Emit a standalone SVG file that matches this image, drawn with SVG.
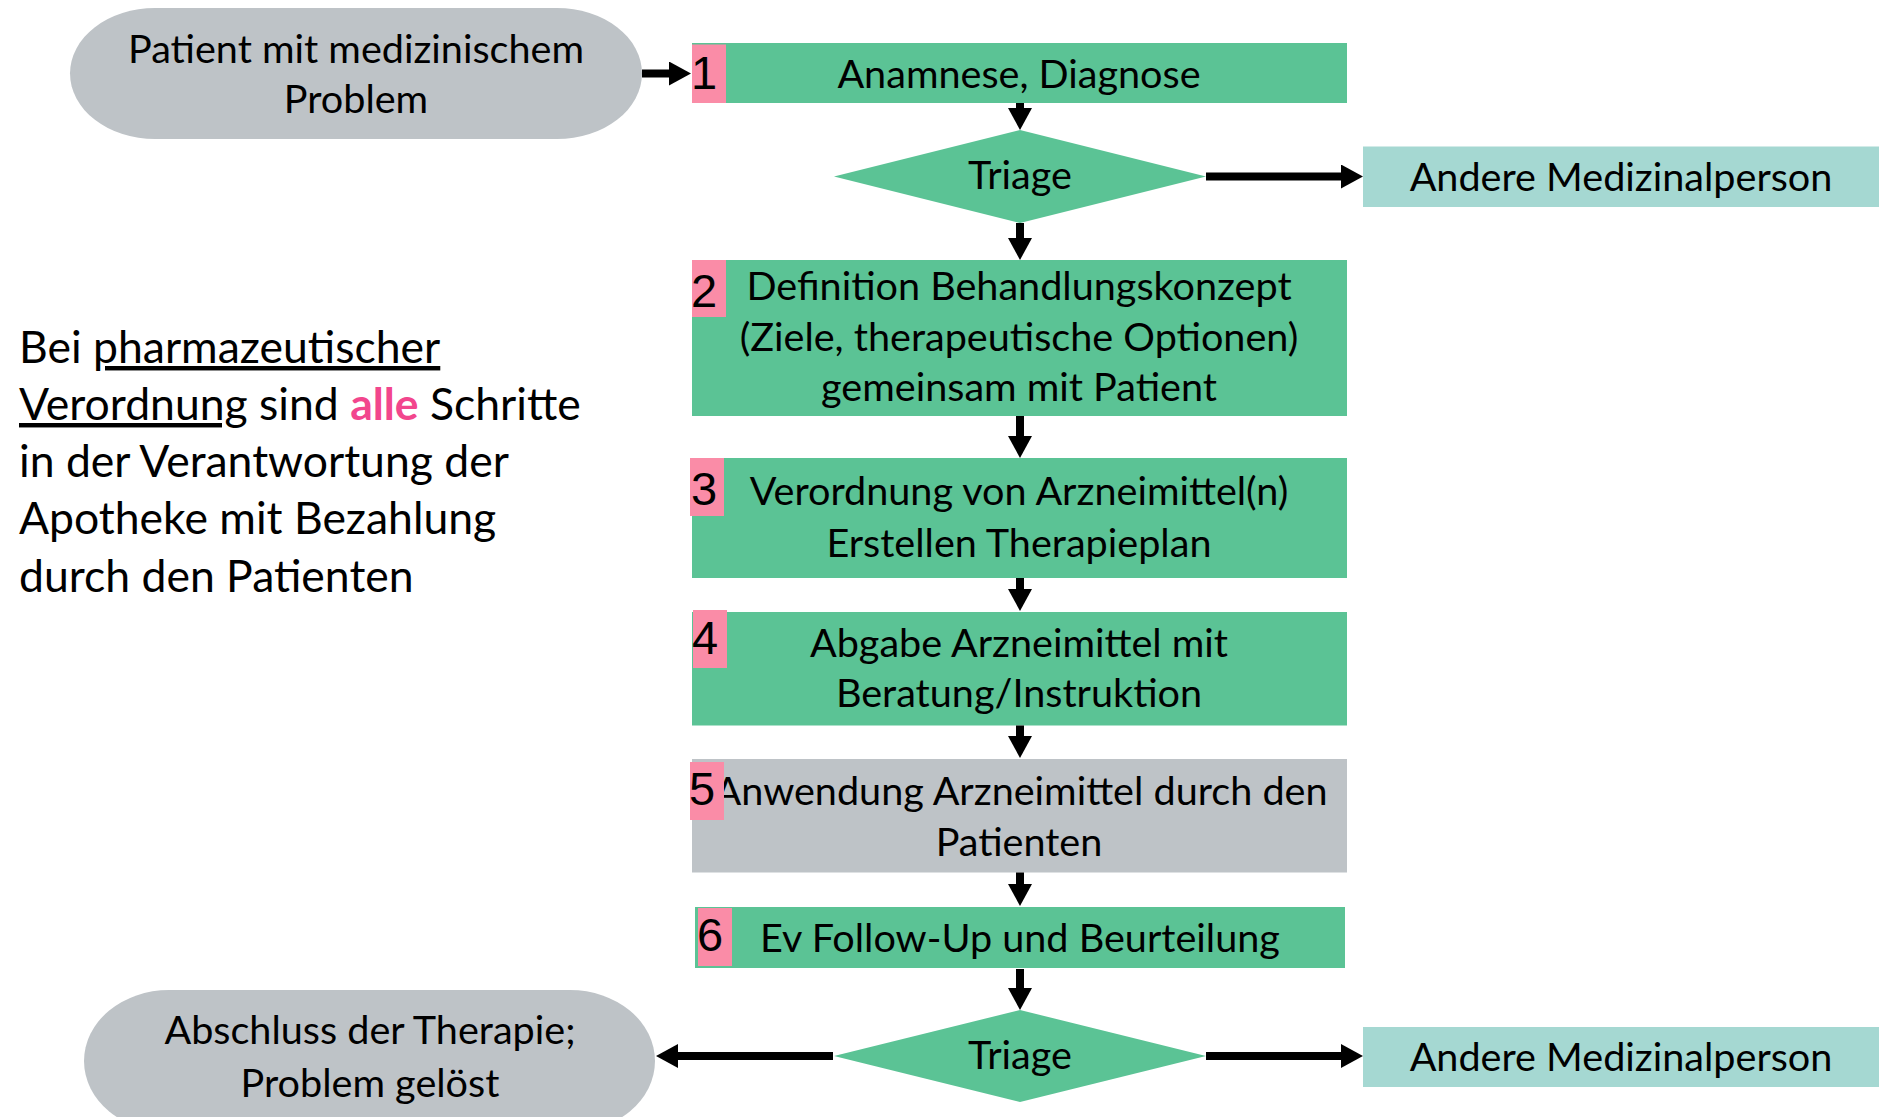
<svg xmlns="http://www.w3.org/2000/svg" width="1879" height="1117" viewBox="0 0 1879 1117">
<style>
.t{font-family:Lato,"Open Sans","Liberation Sans",sans-serif;font-size:39.6px;fill:#000;text-anchor:middle}
.l{font-family:Lato,"Open Sans","Liberation Sans",sans-serif;font-size:44.5px;fill:#000}
.n{font-family:"Liberation Sans",Arial,sans-serif;font-size:47px;fill:#000}
.green{fill:#5BC395}
.gray{fill:#BEC3C7}
.teal{fill:#A5D8D2}
.badge{fill:#FA8CA7}
.conn{stroke:#000;stroke-width:8;fill:none;marker-end:url(#ah)}
</style>
<defs>
<marker id="ah" markerUnits="userSpaceOnUse" markerWidth="22" markerHeight="24" refX="1" refY="12" orient="auto">
<path d="M0,0 L22,12 L0,24 z" fill="#000"/>
</marker>
</defs>
<rect width="1879" height="1117" fill="#fff"/>

<g id="start">
<rect class="gray" x="70" y="8" width="572" height="131" rx="85" ry="65.5"/>
<text class="t" x="356" y="63">Patient mit medizinischem</text>
<text class="t" x="356" y="113">Problem</text>
</g>

<g id="step1">
<rect class="green" x="692" y="43" width="655" height="60"/>
<text class="t" x="1019" y="88">Anamnese, Diagnose</text>
<rect class="badge" x="692" y="44.5" width="34" height="58.5"/>
<text class="n" x="691" y="89">1</text>
</g>

<g id="triage1">
<polygon class="green" points="1020,130 1206,176.5 1020,223 834,176.5"/>
<text class="t" x="1020" y="189">Triage</text>
</g>

<g id="other1">
<rect class="teal" x="1363" y="146.5" width="516" height="60.5"/>
<text class="t" x="1621" y="191">Andere Medizinalperson</text>
</g>

<g id="step2">
<rect class="green" x="692" y="260" width="655" height="156"/>
<text class="t" x="1019" y="300">Definition Behandlungskonzept</text>
<text class="t" x="1019" y="351">(Ziele, therapeutische Optionen)</text>
<text class="t" x="1019" y="401">gemeinsam mit Patient</text>
<rect class="badge" x="692" y="260" width="34" height="57"/>
<text class="n" x="691" y="307">2</text>
</g>

<g id="step3">
<rect class="green" x="692" y="458" width="655" height="120"/>
<text class="t" x="1019" y="505">Verordnung von Arzneimittel(n)</text>
<text class="t" x="1019" y="557">Erstellen Therapieplan</text>
<rect class="badge" x="690" y="458" width="34" height="58"/>
<text class="n" x="691" y="505">3</text>
</g>

<g id="step4">
<rect class="green" x="692" y="612" width="655" height="113.5"/>
<text class="t" x="1019" y="657">Abgabe Arzneimittel mit</text>
<text class="t" x="1019" y="707">Beratung/Instruktion</text>
<rect class="badge" x="693" y="610" width="34" height="58"/>
<text class="n" x="692" y="654">4</text>
</g>

<g id="step5">
<rect class="gray" x="692" y="759" width="655" height="113.5"/>
<text class="t" x="1021" y="805">Anwendung Arzneimittel durch den</text>
<text class="t" x="1019" y="856">Patienten</text>
<rect class="badge" x="690" y="762" width="34" height="58"/>
<text class="n" x="689" y="805">5</text>
</g>

<g id="step6">
<rect class="green" x="695" y="907" width="650" height="61"/>
<text class="t" x="1020" y="952">Ev Follow-Up und Beurteilung</text>
<rect class="badge" x="698" y="908" width="34" height="58"/>
<text class="n" x="697" y="951">6</text>
</g>

<g id="triage2">
<polygon class="green" points="1020,1010 1206,1056 1020,1102 834,1056"/>
<text class="t" x="1020" y="1069">Triage</text>
</g>

<g id="other2">
<rect class="teal" x="1363" y="1027" width="516" height="60"/>
<text class="t" x="1621" y="1071">Andere Medizinalperson</text>
</g>

<g id="end">
<rect class="gray" x="84" y="990" width="571" height="142" rx="85" ry="71"/>
<text class="t" x="370" y="1044">Abschluss der Therapie;</text>
<text class="t" x="370" y="1097">Problem gelöst</text>
</g>

<g id="note">
<text class="l" x="19" y="363">Bei <tspan text-decoration="underline">pharmazeutischer</tspan></text>
<text class="l" x="19" y="420"><tspan text-decoration="underline">Verordnung</tspan> sind <tspan fill="#F2468D" font-weight="bold">alle</tspan> Schritte</text>
<text class="l" x="19" y="477">in der Verantwortung der</text>
<text class="l" x="19" y="534">Apotheke mit Bezahlung</text>
<text class="l" x="19" y="592">durch den Patienten</text>
</g>

<g id="connectors">
<path class="conn" d="M642,73.5 H670"/>
<path class="conn" d="M1020,103 V109"/>
<path class="conn" d="M1206,176.5 H1342"/>
<path class="conn" d="M1020,223 V239"/>
<path class="conn" d="M1020,416 V437"/>
<path class="conn" d="M1020,578 V590"/>
<path class="conn" d="M1020,725.5 V737"/>
<path class="conn" d="M1020,872.5 V885"/>
<path class="conn" d="M1020,969 V989"/>
<path class="conn" d="M833,1056 H677"/>
<path class="conn" d="M1206,1056 H1342"/>
</g>
</svg>
